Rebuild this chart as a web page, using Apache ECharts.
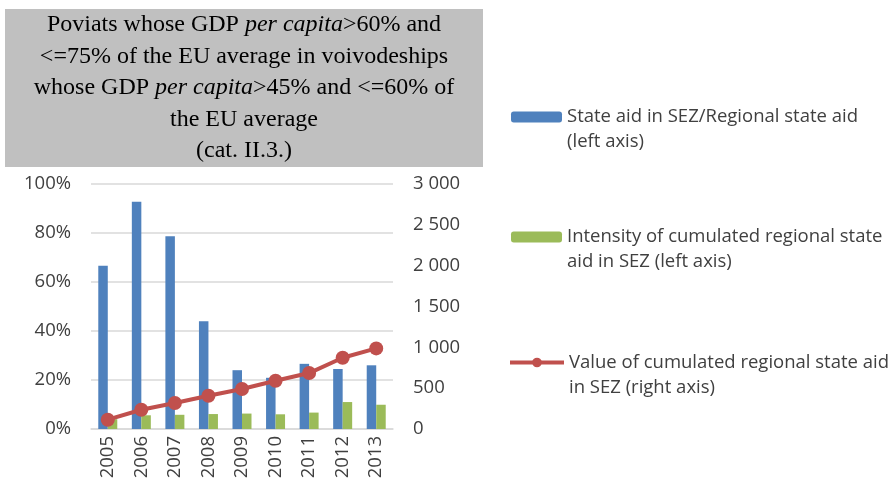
<!DOCTYPE html>
<html>
<head>
<meta charset="utf-8">
<script src="https://cdn.jsdelivr.net/npm/echarts@6/dist/echarts.min.js"></script>
<style>
  html, body { margin: 0; padding: 0; background: #fff; }
  #chart { width: 895px; height: 488px; }
</style>
</head>
<body>
<div id="chart"></div>
<script>
const years = ['2005', '2006', '2007', '2008', '2009', '2010', '2011', '2012', '2013']
// share of state aid in SEZ in regional state aid (left axis, fraction)
const aidShare = [0.666, 0.928, 0.787, 0.44, 0.24, 0.209, 0.266, 0.245, 0.26]
// intensity of cumulated regional state aid in SEZ (left axis, fraction)
const aidIntensity = [0.04, 0.056, 0.058, 0.061, 0.063, 0.06, 0.067, 0.11, 0.099]
// value of cumulated regional state aid in SEZ (right axis)
const aidValue = [114, 236, 318, 408, 489, 591, 685, 872, 987]

const seriesNames = [
  'State aid in SEZ/Regional state aid\n(left axis)',
  'Intensity of cumulated regional state\naid in SEZ (left axis)',
  'Value of cumulated regional state aid\nin SEZ (right axis)'
]

const BLUE = '#4f81bd'
const GREEN = '#9bbb59'
const RED = '#c0504d'
const LABEL = '#404040'
const GRIDLINE = '#d9d9d9'
const SANS = 'Open Sans'
const SERIF_FONT = '24px "Liberation Serif", "DejaVu Serif", serif'

const chart = echarts.init(document.getElementById('chart'))

// leading blank line keeps the first text line level with the icon
function legendAt(name, top, opts) {
  return Object.assign({
    data: [name],
    left: 506,
    top: top,
    itemGap: 0,
    formatter: (n) => '\n' + n,
    textStyle: {
      fontFamily: SANS,
      fontSize: 18.5,
      lineHeight: 25,
      color: LABEL
    }
  }, opts)
}

function thousands(v) {
  return String(v).replace(/\B(?=(\d{3})+(?!\d))/g, ' ')
}

const option = {
  animation: false,
  graphic: [
    {
      type: 'rect',
      shape: { x: 5, y: 9, width: 478, height: 158 },
      style: { fill: '#c0c0c0' },
      silent: true
    },
    {
      type: 'text',
      x: 244,
      y: 9,
      style: {
        text: '{n|Poviats whose GDP }{i|per capita}{n|>60% and}\n' +
          '{n|<=75% of the EU average in voivodeships}\n' +
          '{n|whose GDP }{i|per capita}{n|>45% and <=60% of}\n' +
          '{n|the EU average}\n' +
          '{n|(cat. II.3.)}',
        align: 'center',
        verticalAlign: 'top',
        fill: '#000',
        font: SERIF_FONT,
        lineHeight: 31.5,
        rich: {
          n: { font: SERIF_FONT, lineHeight: 31.5, fill: '#000' },
          i: { font: 'italic ' + SERIF_FONT, lineHeight: 31.5, fill: '#000' }
        }
      }
    }
  ],
  legend: [
    legendAt(seriesNames[0], 74.5, { itemWidth: 51, itemHeight: 11 }),
    legendAt(seriesNames[1], 194.5, { itemWidth: 51, itemHeight: 11 }),
    legendAt(seriesNames[2], 320, {
      itemWidth: 54,
      itemHeight: 12,
      left: 503,
      lineStyle: { width: 4, color: RED }
    })
  ],
  grid: { left: 91, right: 502, top: 184, bottom: 59 },
  xAxis: {
    type: 'category',
    data: years,
    axisLine: { lineStyle: { color: GRIDLINE, width: 1.5 } },
    axisTick: { show: false },
    axisLabel: {
      rotate: 90,
      margin: 7,
      fontFamily: SANS,
      fontSize: 18.5,
      color: LABEL
    }
  },
  yAxis: [
    {
      type: 'value',
      min: 0,
      max: 1,
      interval: 0.2,
      axisLine: { show: false },
      axisTick: { show: false },
      splitLine: { lineStyle: { color: GRIDLINE, width: 1.5 } },
      axisLabel: {
        margin: 20,
        fontFamily: SANS,
        fontSize: 18.5,
        color: LABEL,
        formatter: (v) => Math.round(v * 100) + '%'
      }
    },
    {
      type: 'value',
      min: 0,
      max: 3000,
      interval: 500,
      position: 'right',
      axisLine: { show: false },
      axisTick: { show: false },
      splitLine: { show: false },
      axisLabel: {
        margin: 20,
        align: 'left',
        fontFamily: SANS,
        fontSize: 18.5,
        color: LABEL,
        formatter: (v) => thousands(v)
      }
    }
  ],
  series: [
    {
      name: seriesNames[0],
      type: 'bar',
      data: aidShare,
      barWidth: 9.5,
      barGap: '0%',
      itemStyle: { color: BLUE }
    },
    {
      name: seriesNames[1],
      type: 'bar',
      data: aidIntensity,
      barWidth: 9.5,
      barGap: '0%',
      itemStyle: { color: GREEN }
    },
    {
      name: seriesNames[2],
      type: 'line',
      yAxisIndex: 1,
      data: aidValue,
      symbol: 'circle',
      symbolSize: 14,
      lineStyle: { width: 4, color: RED },
      itemStyle: { color: RED }
    }
  ]
}

chart.setOption(option)
</script>
</body>
</html>
